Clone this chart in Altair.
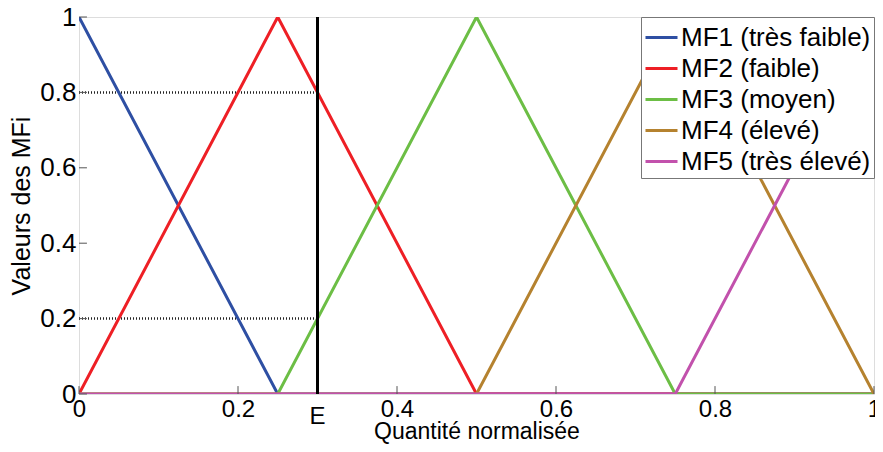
import altair as alt
import pandas as pd

# Membership functions (breakpoints)
mf_names = ["MF1 (très faible)", "MF2 (faible)", "MF3 (moyen)", "MF4 (élevé)", "MF5 (très élevé)"]
mf1_x = [0, 0.25, 1]
mf1_y = [1, 0, 0]
mf2_x = [0, 0.25, 0.5, 1]
mf2_y = [0, 1, 0, 0]
mf3_x = [0, 0.25, 0.5, 0.75, 1]
mf3_y = [0, 0, 1, 0, 0]
mf4_x = [0, 0.5, 0.75, 1]
mf4_y = [0, 0, 1, 0]
mf5_x = [0, 0.75, 1]
mf5_y = [0, 0, 1]
colors = ["#2E4FA3", "#EE1F25", "#6CBE45", "#B5822F", "#C251AC"]

E_value = 0.3
dotted_levels = [0.8, 0.2]
x_ticks = [0, 0.2, 0.4, 0.6, 0.8, 1]
y_ticks = [0, 0.2, 0.4, 0.6, 0.8, 1]

rows = []
order = 0
for name, xs, ys in zip(mf_names, [mf1_x, mf2_x, mf3_x, mf4_x, mf5_x], [mf1_y, mf2_y, mf3_y, mf4_y, mf5_y]):
    for x, y in zip(xs, ys):
        rows.append({"mf": name, "x": x, "y": y, "o": order})
        order += 1
df = pd.DataFrame(rows)

W, H = 795, 377
FONT = "Liberation Sans"

xscale = alt.Scale(domain=[0, 1], nice=False, zero=False)
yscale = alt.Scale(domain=[0, 1], nice=False, zero=False)

xaxis = alt.Axis(values=x_ticks, format="~g", title="Quantité normalisée", domain=False, ticks=False,
                 grid=False, labelFontSize=24, titleFontSize=23, labelFont=FONT, titleFont=FONT,
                 labelColor="black", titleColor="black", titleFontWeight="normal", labelPadding=3,
                 titleBaseline="middle", titleY=37, labelFlush=False)
yaxis = alt.Axis(values=y_ticks, format="~g", title="Valeurs des MFi", domain=False, ticks=False,
                 grid=False, labelFontSize=26, titleFontSize=25, labelFont=FONT, titleFont=FONT,
                 labelColor="black", titleColor="black", titleFontWeight="normal", labelPadding=3,
                 titlePadding=5, labelFlush=False)

lines = alt.Chart(df).mark_line(strokeWidth=3, clip=True).encode(
    x=alt.X("x:Q", scale=xscale, axis=xaxis),
    y=alt.Y("y:Q", scale=yscale, axis=yaxis),
    color=alt.Color("mf:N", scale=alt.Scale(domain=mf_names, range=colors),
                    legend=alt.Legend(title=None, orient="top-right", offset=0, labelFontSize=26,
                                      labelFont=FONT, labelColor="black", symbolType="stroke",
                                      symbolSize=1024, symbolStrokeWidth=3, labelOffset=2,
                                      rowPadding=0, padding=3, strokeColor="#777777",
                                      fillColor="white", labelLimit=400)),
    order="o:Q",
)

# inward tick marks
xt = pd.DataFrame({"x": x_ticks, "y0": 0, "y1": 0.021})
yt = pd.DataFrame({"y": y_ticks, "x0": 0, "x1": 0.01})
xticks = alt.Chart(xt).mark_rule(color="#555555", strokeWidth=1).encode(
    x=alt.X("x:Q", scale=xscale), y=alt.Y("y0:Q", scale=yscale), y2="y1:Q")
yticks = alt.Chart(yt).mark_rule(color="#555555", strokeWidth=1).encode(
    y=alt.Y("y:Q", scale=yscale), x=alt.X("x0:Q", scale=xscale), x2="x1:Q")

dot_df = pd.DataFrame({"y": dotted_levels, "x0": 0, "x1": E_value})
dotted = alt.Chart(dot_df).mark_rule(color="#222222", strokeWidth=2.5, strokeDash=[1, 2]).encode(
    y=alt.Y("y:Q", scale=yscale), x=alt.X("x0:Q", scale=xscale), x2="x1:Q")

e_df = pd.DataFrame({"x": [E_value], "y0": [0], "y1": [1], "label": ["E"]})
eline = alt.Chart(e_df).mark_rule(color="black", strokeWidth=3).encode(
    x=alt.X("x:Q", scale=xscale), y=alt.Y("y0:Q", scale=yscale), y2="y1:Q")
etext = alt.Chart(e_df).mark_text(fontSize=24, font=FONT, color="black", baseline="middle",
                                  align="center", dy=23).encode(
    x=alt.X("x:Q", scale=xscale), y=alt.Y("y0:Q", scale=yscale), text="label:N")

chart = alt.layer(dotted, lines, eline, xticks, yticks, etext).properties(
    width=W, height=H,
    autosize=alt.AutoSizeParams(type="none"),
    padding={"left": 71, "top": 9, "right": 1, "bottom": 50},
).configure_view(stroke="#777777", strokeWidth=1).configure(background="white")

chart.save("out.html", embed_options={"renderer": "svg", "actions": False})
